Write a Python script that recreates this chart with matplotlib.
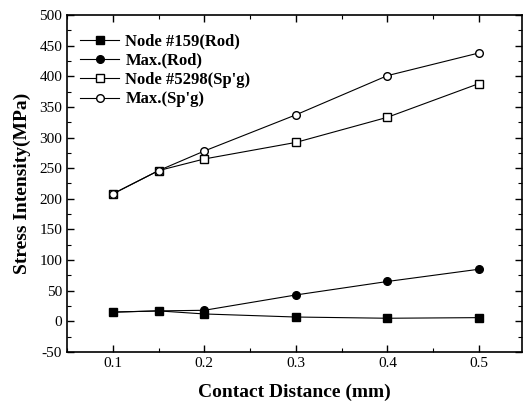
import matplotlib
matplotlib.use("Agg")
import matplotlib.pyplot as plt
from matplotlib.ticker import MultipleLocator

x = [0.1, 0.15, 0.2, 0.3, 0.4, 0.5]
node159_rod = [15, 17, 12, 7, 5, 6]
max_rod = [15, 17, 18, 43, 65, 85]
node5298_spg = [208, 246, 265, 292, 333, 388]
max_spg = [208, 246, 278, 337, 401, 438]

plt.rcParams['font.family'] = ['Liberation Serif', 'DejaVu Serif']
plt.rcParams['axes.unicode_minus'] = False

fig = plt.figure(figsize=(5.24, 4.05), dpi=100)
ax = fig.add_axes([0.128, 0.131, 0.868, 0.832])

ms = 5.5
lw = 0.8
ax.plot(x, node159_rod, '-s', color='black', mfc='black', ms=ms, lw=lw, label='Node #159(Rod)')
ax.plot(x, max_rod, '-o', color='black', mfc='black', ms=ms, lw=lw, label='Max.(Rod)')
ax.plot(x, node5298_spg, '-s', color='black', mfc='white', ms=ms, lw=lw, label="Node #5298(Sp'g)")
ax.plot(x, max_spg, '-o', color='black', mfc='white', ms=ms, lw=lw, label="Max.(Sp'g)")

ax.set_xlim(0.05, 0.547)
ax.set_ylim(-50, 500)
ax.set_xticks([0.1, 0.2, 0.3, 0.4, 0.5])
ax.xaxis.set_minor_locator(MultipleLocator(0.05))
ax.yaxis.set_major_locator(MultipleLocator(50))
ax.yaxis.set_minor_locator(MultipleLocator(25))
ax.tick_params(which='both', direction='in', top=True, right=True, labelsize=11)
ax.tick_params(which='major', length=5, width=1)
ax.tick_params(which='minor', length=3, width=0.8)
for s in ax.spines.values():
    s.set_linewidth(1.2)

ax.set_xlabel('Contact Distance (mm)', fontsize=14, fontweight='bold', labelpad=10)
ax.set_ylabel('Stress Intensity(MPa)', fontsize=14, fontweight='bold', labelpad=6)

leg = ax.legend(loc='upper left', bbox_to_anchor=(0.0, 0.985), frameon=False,
                prop={'weight': 'bold', 'size': 12},
                handlelength=2.3, borderaxespad=0.4, labelspacing=0.2, handletextpad=0.4)

fig.savefig('out.png', dpi=100)
